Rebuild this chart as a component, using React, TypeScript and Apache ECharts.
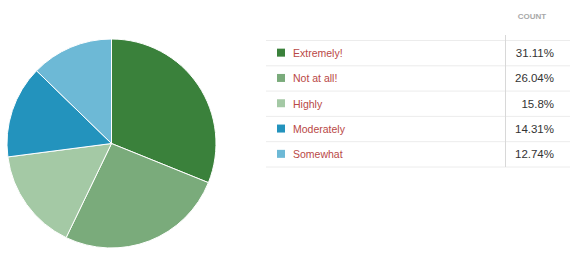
import React, { useEffect, useRef } from "react";
import * as echarts from "echarts";

const categories = ["Extremely!", "Not at all!", "Highly", "Moderately", "Somewhat"];
const percentages = [31.11, 26.04, 15.8, 14.31, 12.74];
const colors = ["#3a813b", "#7aab7b", "#a4c9a5", "#2393bd", "#6db9d6"];
const headerLabel = "COUNT";

export default function App() {
  const ref = useRef<HTMLDivElement>(null);
  useEffect(() => {
    const chart = echarts.init(ref.current!, null, { renderer: "svg" });
    const rowTop = 40.5;
    const rowH = 25.3;
    const tableLeft = 266;
    const tableRight = 570;
    const font = "Arial, 'Liberation Sans', sans-serif";
    const graphics: any[] = [];
    for (let i = 0; i <= categories.length; i++) {
      graphics.push({
        type: "line",
        shape: { x1: tableLeft, y1: rowTop + i * rowH, x2: tableRight, y2: rowTop + i * rowH },
        style: { stroke: "#ececec", lineWidth: 1 },
        silent: true,
      });
    }
    graphics.push({
      type: "line",
      shape: { x1: 505.5, y1: 35, x2: 505.5, y2: rowTop + categories.length * rowH },
      style: { stroke: "#d8d8d8", lineWidth: 1 },
      silent: true,
    });
    graphics.push({
      type: "text",
      x: 532,
      y: 16,
      style: {
        text: headerLabel,
        fill: "#a8a8a8",
        font: "bold 8px " + font,
        align: "center",
        verticalAlign: "middle",
      },
    });
    categories.forEach((c, i) => {
      const cy = rowTop + (i + 0.5) * rowH;
      graphics.push({
        type: "rect",
        shape: { x: 277, y: cy - 4.5, width: 8, height: 8 },
        style: { fill: colors[i] },
      });
      graphics.push({
        type: "text",
        x: 293,
        y: cy,
        style: {
          text: c,
          fill: "#b94846",
          font: "10.5px " + font,
          align: "left",
          verticalAlign: "middle",
        },
      });
    });
    percentages.forEach((v, i) => {
      graphics.push({
        type: "text",
        x: 554,
        y: rowTop + (i + 0.5) * rowH,
        style: {
          text: v + "%",
          fill: "#333333",
          font: "11.5px " + font,
          align: "right",
          verticalAlign: "middle",
        },
      });
    });

    chart.setOption({
      animation: false,
      color: colors,
      graphic: graphics,
      series: [
        {
          type: "pie",
          center: [111.5, 143.5],
          radius: 104.5,
          startAngle: 90,
          clockwise: true,
          label: { show: false },
          labelLine: { show: false },
          itemStyle: { borderColor: "#ffffff", borderWidth: 1 },
          emphasis: { disabled: true },
          data: categories.map((c, i) => ({ name: c, value: percentages[i] })),
        },
      ],
    });
    return () => chart.dispose();
  }, []);
  return (
    <div
      ref={ref}
      style={{ position: "fixed", left: 0, top: 0, width: 570, height: 255, background: "#fff" }}
    />
  );
}
